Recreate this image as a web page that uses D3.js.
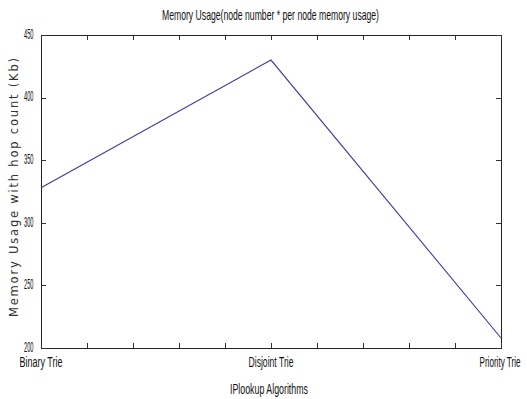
<!DOCTYPE html>
<html>
<head>
<meta charset="utf-8">
<script src="https://cdn.jsdelivr.net/npm/d3@7"></script>
<style>
  html, body { margin: 0; padding: 0; background: #fff; }
  svg { display: block; }
  .narrow { font-family: "Liberation Sans", Arial, sans-serif; }
</style>
</head>
<body>
<svg id="chart" width="527" height="399"></svg>
<script>
// Memory usage per IP lookup algorithm
const categories = ["Binary Trie", "Disjoint Trie", "Priority Trie"];
const memoryKb = [328, 430, 208];
const yTicks = [200, 250, 300, 350, 400, 450];
const xMinorTicks = [0, 0.2, 0.4, 0.6, 0.8, 1, 1.2, 1.4, 1.6, 1.8, 2];

const svg = d3.select("#chart");
const m = { left: 41, right: 501, top: 35, bottom: 348 };

const x = d3.scaleLinear().domain([0, categories.length - 1]).range([m.left, m.right]);
const y = d3.scaleLinear().domain([200, 450]).range([m.bottom, m.top]);

const tickLen = 5;

// Compress a text node horizontally to a fixed width
function squeeze(sel, w) {
  sel.attr("textLength", w).attr("lengthAdjust", "spacingAndGlyphs");
}

// Box
svg.append("rect")
  .attr("x", m.left + 0.5).attr("y", m.top + 0.5)
  .attr("width", m.right - m.left).attr("height", m.bottom - m.top)
  .attr("fill", "none").attr("stroke", "#222").attr("stroke-width", 1);

// Inward ticks on all four sides
const ticksG = svg.append("g").attr("stroke", "#333").attr("stroke-width", 1);
xMinorTicks.forEach(t => {
  const px = Math.round(x(t)) + 0.5;
  ticksG.append("line").attr("x1", px).attr("x2", px).attr("y1", m.bottom).attr("y2", m.bottom - tickLen);
  ticksG.append("line").attr("x1", px).attr("x2", px).attr("y1", m.top).attr("y2", m.top + tickLen);
});
yTicks.forEach(t => {
  const py = Math.round(y(t)) + 0.5;
  ticksG.append("line").attr("x1", m.left).attr("x2", m.left + tickLen).attr("y1", py).attr("y2", py);
  ticksG.append("line").attr("x1", m.right).attr("x2", m.right - tickLen).attr("y1", py).attr("y2", py);
});

// Y tick labels
svg.append("g").selectAll("text").data(yTicks).join("text")
  .attr("class", "narrow")
  .attr("x", 33.5)
  .attr("y", d => y(d) - 1)
  .attr("dy", "0.34em")
  .attr("text-anchor", "end")
  .attr("font-size", 14)
  .attr("fill", "#111")
  .text(d => d)
  .call(squeeze, 9.5);

// X category labels
const catWidths = [43, 45, 41];
svg.append("g").selectAll("text").data(categories).join("text")
  .attr("class", "narrow")
  .attr("x", (d, i) => x(i) - (i === categories.length - 1 ? 1 : 0))
  .attr("y", 367)
  .attr("text-anchor", "middle")
  .attr("font-size", 14.5)
  .attr("fill", "#111")
  .text(d => d)
  .each(function (d, i) { d3.select(this).call(squeeze, catWidths[i]); });

// Data line
const line = d3.line().x((d, i) => x(i)).y(d => y(d));
svg.append("path")
  .datum(memoryKb)
  .attr("d", line)
  .attr("fill", "none")
  .attr("stroke", "#3b3ba6")
  .attr("stroke-width", 1.1);

// Title
svg.append("text")
  .attr("class", "narrow")
  .attr("x", 270.5).attr("y", 20)
  .attr("text-anchor", "middle")
  .attr("font-size", 14.5)
  .attr("fill", "#111")
  .text("Memory Usage(node number * per node memory usage)")
  .call(squeeze, 217);

// X axis label
svg.append("text")
  .attr("class", "narrow")
  .attr("x", 269).attr("y", 393.5)
  .attr("text-anchor", "middle")
  .attr("font-size", 15)
  .attr("fill", "#111")
  .text("IPlookup Algorithms")
  .call(squeeze, 78);

// Y axis label
svg.append("text")
  .attr("transform", "translate(18,187.5) rotate(-90)")
  .attr("text-anchor", "middle")
  .attr("font-family", "DejaVu Sans, Verdana, sans-serif")
  .attr("font-size", 11.5)
  .attr("fill", "#333")
  .text("Memory Usage with hop count (Kb)")
  .attr("textLength", 259)
  .attr("lengthAdjust", "spacing");
</script>
</body>
</html>
